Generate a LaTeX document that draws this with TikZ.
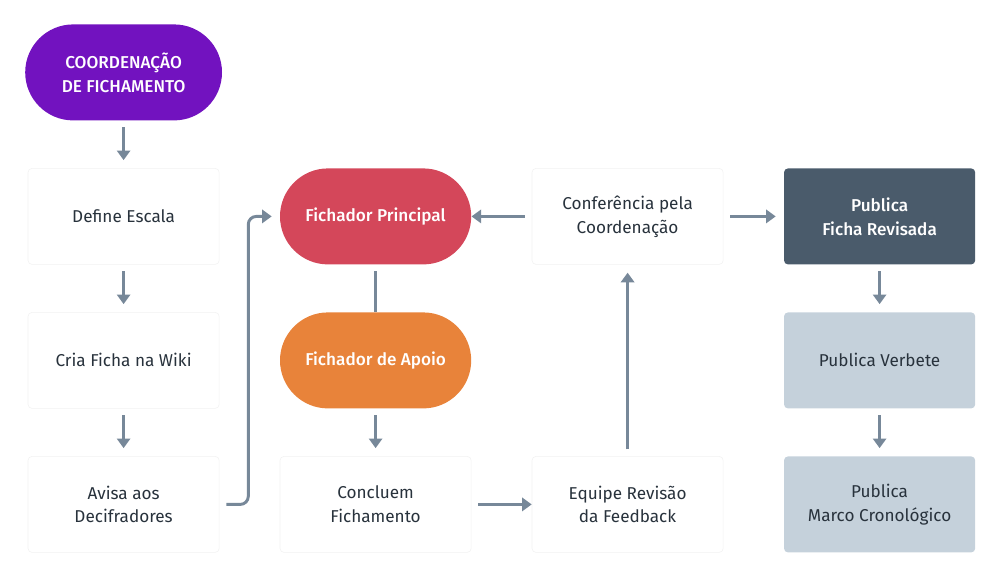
\documentclass[tikz,border=0pt]{standalone}
\usepackage{fontspec}
\setmainfont{Fira Sans}[BoldFont={Fira Sans Medium}]
\usetikzlibrary{arrows.meta}

\definecolor{roxo}{HTML}{7212BF}
\definecolor{vermelho}{HTML}{D4475A}
\definecolor{laranja}{HTML}{E8833A}
\definecolor{ardosia}{HTML}{4A5B6B}
\definecolor{azulclaro}{HTML}{C5D1DB}
\definecolor{texto}{HTML}{28323C}
\definecolor{cinza}{HTML}{778899}

\tikzset{
  caixa/.style={rectangle, rounded corners=0.1cm, minimum width=4.78cm,
    minimum height=2.4cm, align=center, text=texto,
    font=\fontsize{12.2}{17}\selectfont},
  branca/.style={caixa, fill=white, draw=black!5, line width=0.4pt},
  pilula/.style={caixa, rounded corners=1.2cm, text=white,
    font=\fontsize{12.2}{17}\selectfont\bfseries},
  seta/.style={draw=cinza, line width=2.1pt,
    -{Triangle[width=0.33cm,length=0.24cm]},
    shorten >=0.2cm, shorten <=0.17cm},
  traco/.style={draw=cinza, line width=2.1pt, shorten <=0.17cm},
}

\begin{document}
\begin{tikzpicture}
                \useasboundingbox (0,0) rectangle (25.025,-14.45);

                % Coordenacao
                \node[pilula, fill=roxo, minimum width=4.92cm] (coord) at (3.09,-1.81) {COORDENAÇÃO\\DE FICHAMENTO};

                % Primeira coluna
                \node[branca] (escala) at (3.09,-5.41) {Define Escala};
                \node[branca] (wiki) at (3.09,-9.01) {Cria Ficha na Wiki};
                \node[branca] (avisa) at (3.09,-12.61) {Avisa aos\\Decifradores};

                % Segunda coluna
                \node[pilula, fill=vermelho] (principal) at (9.39,-5.41) {Fichador Principal};
                \node[pilula, fill=laranja] (apoio) at (9.39,-9.01) {Fichador de Apoio};
                \node[branca] (concluem) at (9.39,-12.61) {Concluem\\Fichamento};

                % Terceira coluna
                \node[branca] (conferencia) at (15.69,-5.41) {Conferência pela\\Coordenação};
                \node[branca] (equipe) at (15.69,-12.61) {Equipe Revisão\\da Feedback};

                % Quarta coluna
                \node[caixa, fill=ardosia, text=white, font=\fontsize{12.2}{17}\selectfont\bfseries] (revisada) at (21.99,-5.41) {Publica\\Ficha Revisada};
                \node[caixa, fill=azulclaro] (verbete) at (21.99,-9.01) {Publica Verbete};
                \node[caixa, fill=azulclaro] (marco) at (21.99,-12.61) {Publica\\Marco Cronológico};

                % Setas
                \draw[seta] (coord) -- (escala);
                \draw[seta] (escala) -- (wiki);
                \draw[seta] (wiki) -- (avisa);
                \draw[seta, rounded corners=0.2cm] (avisa.east) -- ++(0.72,0) |- (principal.west);
                \draw[traco] (principal) -- (apoio);
                \draw[seta] (apoio) -- (concluem);
                \draw[seta, shorten >=0pt] (concluem) -- (equipe);
                \draw[seta] (equipe) -- (conferencia);
                \draw[seta, shorten >=0pt] (conferencia) -- (principal);
                \draw[seta] (conferencia) -- (revisada);
                \draw[seta] (revisada) -- (verbete);
                \draw[seta] (verbete) -- (marco);
            \end{tikzpicture}
\end{document}
